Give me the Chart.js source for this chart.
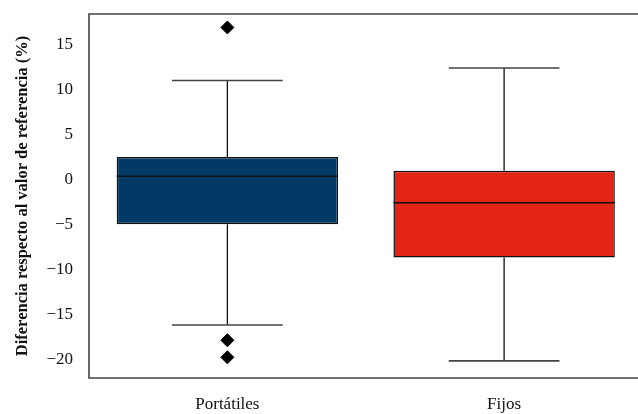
<!DOCTYPE html>
<html>
<head>
<meta charset="utf-8">
<script src="https://cdn.jsdelivr.net/npm/chart.js@4/dist/chart.umd.min.js"></script>
<style>
  html, body { margin: 0; padding: 0; background: #fff; overflow: hidden; }
  #wrap { width: 650px; height: 414px; }
</style>
</head>
<body>
<div id="wrap"><canvas id="box"></canvas></div>
<script>
const categories = ["Portátiles", "Fijos"];
const boxColors = ["#023a66", "#e22514"];
const q1 = [-5.0, -8.7];
const median = [0.35, -2.6];
const q3 = [2.5, 0.95];
const whiskerLow = [-16.2, -20.2];
const whiskerHigh = [11.0, 12.4];
const outliers = [[16.9, -17.9, -19.8], []];
const yTicks = [15, 10, 5, 0, -5, -10, -15, -20];

const serif = "'Liberation Serif', 'DejaVu Serif', serif";

// whiskers, caps, medians and frame
const boxExtras = {
  id: "boxExtras",
  afterDatasetsDraw(chart) {
    const { ctx, chartArea, scales } = chart;
    const x = scales.x, y = scales.y;
    const half = x.width / categories.length * 0.2;
    const boxHalf = x.width / categories.length * 0.4;
    ctx.save();
    categories.forEach((c, i) => {
      const cx = x.getPixelForValue(i);
      ctx.strokeStyle = "#111";
      ctx.lineWidth = 1.3;
      ctx.beginPath();
      ctx.moveTo(cx, y.getPixelForValue(q3[i]));
      ctx.lineTo(cx, y.getPixelForValue(whiskerHigh[i]));
      ctx.moveTo(cx, y.getPixelForValue(q1[i]));
      ctx.lineTo(cx, y.getPixelForValue(whiskerLow[i]));
      ctx.stroke();
      ctx.strokeStyle = "#444";
      ctx.lineWidth = 1.6;
      ctx.beginPath();
      ctx.moveTo(cx - half, y.getPixelForValue(whiskerHigh[i]));
      ctx.lineTo(cx + half, y.getPixelForValue(whiskerHigh[i]));
      ctx.moveTo(cx - half, y.getPixelForValue(whiskerLow[i]));
      ctx.lineTo(cx + half, y.getPixelForValue(whiskerLow[i]));
      ctx.stroke();
      ctx.strokeStyle = "#111";
      ctx.lineWidth = 1.3;
      ctx.beginPath();
      ctx.moveTo(cx - boxHalf, y.getPixelForValue(median[i]));
      ctx.lineTo(cx + boxHalf, y.getPixelForValue(median[i]));
      ctx.stroke();
    });
    ctx.strokeStyle = "#444";
    ctx.lineWidth = 1.6;
    ctx.beginPath();
    ctx.moveTo(chartArea.right, chartArea.top);
    ctx.lineTo(chartArea.left, chartArea.top);
    ctx.lineTo(chartArea.left, chartArea.bottom);
    ctx.lineTo(chartArea.right, chartArea.bottom);
    ctx.stroke();
    ctx.restore();
  }
};

const outlierPoints = [];
outliers.forEach((list, i) => list.forEach(v => outlierPoints.push({ x: categories[i], y: v })));

new Chart(document.getElementById("box"), {
  type: "bar",
  data: {
    labels: categories,
    datasets: [
      {
        data: categories.map((_, i) => [q1[i], q3[i]]),
        backgroundColor: boxColors,
        borderColor: "#111",
        borderWidth: 1.5,
        borderSkipped: false,
        categoryPercentage: 1,
        barPercentage: 0.8
      },
      {
        type: "scatter",
        data: outlierPoints,
        pointStyle: "rectRot",
        radius: 6.5,
        backgroundColor: "#000",
        borderColor: "#000"
      }
    ]
  },
  options: {
    responsive: true,
    maintainAspectRatio: false,
    animation: false,
    layout: { padding: { top: 14, right: 0, left: 13, bottom: 0 } },
    plugins: { legend: { display: false }, tooltip: { enabled: false } },
    scales: {
      x: {
        type: "category",
        grid: { display: false, drawTicks: false },
        border: { display: false },
        ticks: { color: "#111", font: { family: serif, size: 17 }, padding: 16 },
        afterFit: s => { s.height = 36; }
      },
      y: {
        min: -22.1,
        max: 18.4,
        grid: { display: false, drawTicks: false },
        border: { display: false },
        afterBuildTicks: s => { s.ticks = yTicks.slice().sort((a, b) => a - b).map(v => ({ value: v })); },
        ticks: {
          color: "#111",
          font: { family: serif, size: 17 },
          padding: 16,
          callback: v => String(v).replace("-", "\u2212")
        },
        title: {
          display: true,
          text: "Diferencia respecto al valor de referencia (%)",
          color: "#111",
          font: { family: serif, size: 16.5, weight: "bold" },
          padding: { top: 0, bottom: 4 }
        },
        afterFit: s => { s.width = 76; s.paddingTop = 0; s.paddingBottom = 0; }
      }
    }
  },
  plugins: [boxExtras]
});
</script>
</body>
</html>
